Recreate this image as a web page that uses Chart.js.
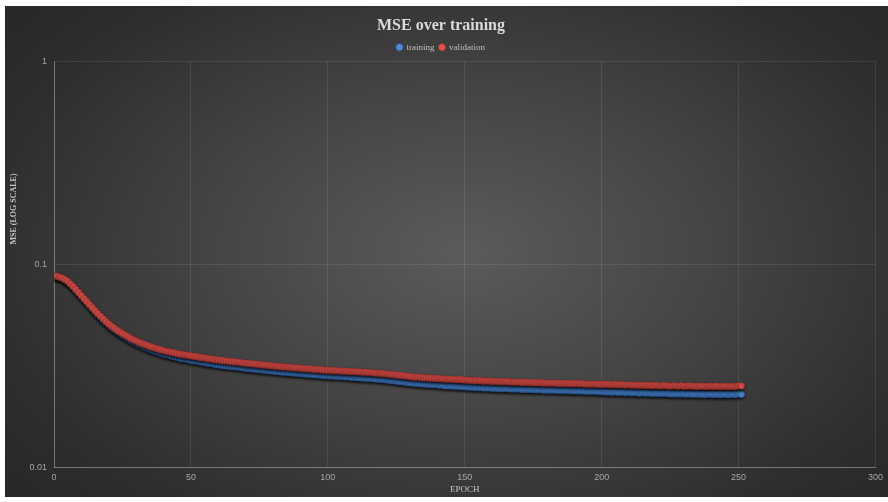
<!DOCTYPE html>
<html>
<head>
<meta charset="utf-8">
<title>MSE over training</title>
<script src="https://cdn.jsdelivr.net/npm/chart.js@4.4.1/dist/chart.umd.min.js"></script>
<style>
  html, body { margin: 0; padding: 0; background: #fff; }
  #wrap {
    position: absolute;
    left: 5px;
    top: 6px;
    width: 883px;
    height: 491px;
    background: radial-gradient(ellipse 70% 80% at 52% 50%, #5b5b5b 0%, #454545 40%, #2e2e2e 78%, #262626 100%);
  }
</style>
</head>
<body>
<div id="wrap"><canvas id="mseChart" width="883" height="491"></canvas></div>
<script>
// MSE per epoch

const seriesNames = ['training', 'validation'];
const firstEpoch = 1;

const validation = [
    0.0875, 0.0866, 0.0856, 0.0842, 0.0825, 0.0802, 0.0778, 0.0752, 0.0727, 0.0702,
    0.0678, 0.0655, 0.0633, 0.0612, 0.0591, 0.0572, 0.0555, 0.0539, 0.0523, 0.0509,
    0.0496, 0.0485, 0.0474, 0.0465, 0.0456, 0.0448, 0.0440, 0.0432, 0.0425, 0.0419,
    0.0413, 0.0408, 0.0403, 0.0399, 0.0394, 0.0390, 0.0386, 0.0383, 0.0379, 0.0376,
    0.0373, 0.0371, 0.0368, 0.0366, 0.0363, 0.0361, 0.0359, 0.0358, 0.0356, 0.0354,
    0.0352, 0.0351, 0.0349, 0.0347, 0.0346, 0.0344, 0.0342, 0.0341, 0.0339, 0.0338,
    0.0337, 0.0335, 0.0334, 0.0333, 0.0332, 0.0331, 0.0330, 0.0329, 0.0327, 0.0326,
    0.0325, 0.0324, 0.0323, 0.0322, 0.0321, 0.0320, 0.0319, 0.0318, 0.0317, 0.0316,
    0.0315, 0.0314, 0.0313, 0.0312, 0.0312, 0.0311, 0.0310, 0.0309, 0.0309, 0.0308,
    0.0307, 0.0306, 0.0306, 0.0305, 0.0304, 0.0303, 0.0303, 0.0302, 0.0301, 0.0301,
    0.0300, 0.0300, 0.0299, 0.0299, 0.0298, 0.0298, 0.0297, 0.0297, 0.0296, 0.0296,
    0.0295, 0.0295, 0.0294, 0.0294, 0.0293, 0.0293, 0.0292, 0.0291, 0.0291, 0.0290,
    0.0289, 0.0288, 0.0287, 0.0286, 0.0285, 0.0284, 0.0283, 0.0282, 0.0281, 0.0280,
    0.0279, 0.0278, 0.0278, 0.0277, 0.0276, 0.0276, 0.0275, 0.0275, 0.0274, 0.0274,
    0.0273, 0.0273, 0.0272, 0.0272, 0.0272, 0.0271, 0.0271, 0.0270, 0.0270, 0.0269,
    0.0269, 0.0268, 0.0268, 0.0267, 0.0267, 0.0267, 0.0266, 0.0266, 0.0266, 0.0265,
    0.0265, 0.0265, 0.0264, 0.0264, 0.0264, 0.0264, 0.0263, 0.0263, 0.0263, 0.0263,
    0.0262, 0.0262, 0.0262, 0.0262, 0.0261, 0.0261, 0.0261, 0.0261, 0.0260, 0.0260,
    0.0260, 0.0260, 0.0260, 0.0259, 0.0259, 0.0259, 0.0259, 0.0259, 0.0258, 0.0258,
    0.0258, 0.0258, 0.0258, 0.0257, 0.0257, 0.0257, 0.0257, 0.0257, 0.0256, 0.0256,
    0.0256, 0.0256, 0.0256, 0.0255, 0.0256, 0.0255, 0.0255, 0.0255, 0.0254, 0.0255,
    0.0254, 0.0254, 0.0254, 0.0253, 0.0254, 0.0253, 0.0253, 0.0253, 0.0252, 0.0253,
    0.0252, 0.0252, 0.0253, 0.0252, 0.0251, 0.0252, 0.0252, 0.0251, 0.0252, 0.0251,
    0.0251, 0.0252, 0.0251, 0.0251, 0.0250, 0.0251, 0.0251, 0.0250, 0.0251, 0.0251,
    0.0250, 0.0251, 0.0250, 0.0250, 0.0251, 0.0250, 0.0250, 0.0251, 0.0250, 0.0252,
    0.0252
];

const training = [
    0.0871, 0.0862, 0.0852, 0.0838, 0.0821, 0.0798, 0.0774, 0.0748, 0.0723, 0.0698,
    0.0673, 0.0649, 0.0627, 0.0605, 0.0584, 0.0565, 0.0548, 0.0531, 0.0516, 0.0501,
    0.0488, 0.0477, 0.0465, 0.0456, 0.0447, 0.0439, 0.0430, 0.0422, 0.0415, 0.0409,
    0.0402, 0.0397, 0.0391, 0.0387, 0.0382, 0.0378, 0.0373, 0.0370, 0.0366, 0.0362,
    0.0359, 0.0357, 0.0353, 0.0351, 0.0348, 0.0345, 0.0343, 0.0342, 0.0339, 0.0337,
    0.0335, 0.0334, 0.0332, 0.0330, 0.0329, 0.0326, 0.0325, 0.0324, 0.0321, 0.0320,
    0.0319, 0.0317, 0.0316, 0.0315, 0.0314, 0.0313, 0.0312, 0.0311, 0.0309, 0.0308,
    0.0307, 0.0306, 0.0305, 0.0304, 0.0303, 0.0302, 0.0301, 0.0300, 0.0299, 0.0298,
    0.0297, 0.0296, 0.0295, 0.0294, 0.0294, 0.0293, 0.0292, 0.0291, 0.0291, 0.0290,
    0.0289, 0.0288, 0.0288, 0.0287, 0.0286, 0.0285, 0.0285, 0.0284, 0.0283, 0.0283,
    0.0282, 0.0282, 0.0281, 0.0281, 0.0280, 0.0280, 0.0279, 0.0279, 0.0277, 0.0277,
    0.0276, 0.0276, 0.0275, 0.0275, 0.0274, 0.0274, 0.0273, 0.0272, 0.0272, 0.0271,
    0.0270, 0.0269, 0.0268, 0.0267, 0.0266, 0.0265, 0.0264, 0.0263, 0.0262, 0.0261,
    0.0260, 0.0259, 0.0259, 0.0258, 0.0257, 0.0257, 0.0256, 0.0256, 0.0255, 0.0255,
    0.0254, 0.0254, 0.0252, 0.0252, 0.0252, 0.0251, 0.0251, 0.0250, 0.0250, 0.0249,
    0.0249, 0.0248, 0.0248, 0.0247, 0.0247, 0.0247, 0.0246, 0.0246, 0.0246, 0.0245,
    0.0245, 0.0245, 0.0244, 0.0244, 0.0244, 0.0244, 0.0243, 0.0243, 0.0243, 0.0243,
    0.0242, 0.0242, 0.0242, 0.0242, 0.0241, 0.0241, 0.0241, 0.0241, 0.0240, 0.0240,
    0.0240, 0.0240, 0.0240, 0.0239, 0.0239, 0.0239, 0.0239, 0.0239, 0.0238, 0.0238,
    0.0238, 0.0238, 0.0238, 0.0237, 0.0237, 0.0237, 0.0237, 0.0237, 0.0236, 0.0236,
    0.0235, 0.0235, 0.0235, 0.0234, 0.0235, 0.0234, 0.0234, 0.0234, 0.0233, 0.0234,
    0.0233, 0.0233, 0.0233, 0.0232, 0.0233, 0.0232, 0.0232, 0.0232, 0.0231, 0.0232,
    0.0231, 0.0231, 0.0231, 0.0231, 0.0230, 0.0230, 0.0230, 0.0230, 0.0230, 0.0230,
    0.0229, 0.0230, 0.0229, 0.0229, 0.0229, 0.0229, 0.0229, 0.0228, 0.0229, 0.0229,
    0.0228, 0.0229, 0.0228, 0.0228, 0.0229, 0.0228, 0.0228, 0.0229, 0.0228, 0.0230,
    0.0229
];

// axis ticks
const yTicks = [0.01, 0.1, 1];
const yTickLabels = ['0.01', '0.1', '1'];
const xMin = 0;
const xMax = 300;
const xStep = 50;

const chartTitle = 'MSE over training';
const xTitle = 'EPOCH';
const yTitle = 'MSE (LOG SCALE)';

const epochs = validation.map((_, i) => firstEpoch + i);

const serif = '"Liberation Serif", "DejaVu Serif", serif';
const narrow = '"Liberation Sans Narrow", "Liberation Sans", sans-serif';
const gridColor = 'rgba(255, 255, 255, 0.09)';

// Excel-like drop shadow under the markers
const markerShadow = {
    id: 'markerShadow',
    beforeDatasetsDraw(chart) {
        const ctx = chart.ctx;
        ctx.save();
        ctx.shadowColor = 'rgba(0, 0, 0, 0.55)';
        ctx.shadowBlur = 3;
        ctx.shadowOffsetY = 1.5;
    },
    afterDatasetsDraw(chart) {
        chart.ctx.restore();
    }
};

// Rotated y axis title, sitting a bit above the axis centre like the original
const yAxisTitle = {
    id: 'yAxisTitle',
    afterDraw(chart) {
        const ctx = chart.ctx;
        ctx.save();
        ctx.translate(9, 203);
        ctx.rotate(-Math.PI / 2);
        ctx.font = 'bold 8px ' + serif;
        ctx.fillStyle = '#c4c4c4';
        ctx.textAlign = 'center';
        ctx.textBaseline = 'middle';
        ctx.fillText(yTitle, 0, 0);
        ctx.restore();
    }
};

function initChart() {
    const ctx = document.getElementById('mseChart').getContext('2d');

    new Chart(ctx, {
        type: 'line',
        data: {
            labels: epochs,
            datasets: [
                {
                    label: seriesNames[0],
                    data: training,
                    showLine: false,
                    pointRadius: 3.2,
                    pointBackgroundColor: '#4f8cd8',
                    pointBorderColor: '#2f62a6',
                    pointBorderWidth: 0.8,
                    order: 1
                },
                {
                    label: seriesNames[1],
                    data: validation,
                    showLine: false,
                    pointRadius: 3.2,
                    pointBackgroundColor: '#e0524c',
                    pointBorderColor: '#a8332f',
                    pointBorderWidth: 0.8,
                    order: 0
                }
            ]
        },
        options: {
            responsive: false,
            animation: false,
            layout: {
                padding: { left: 0, right: 11, top: 0, bottom: 0 }
            },
            plugins: {
                title: {
                    display: true,
                    text: chartTitle,
                    color: '#dadada',
                    font: { family: serif, size: 16, weight: 'bold' },
                    padding: { top: 7, bottom: 2 }
                },
                legend: {
                    labels: {
                        usePointStyle: true,
                        pointStyle: 'circle',
                        boxWidth: 5,
                        boxHeight: 5,
                        padding: 5,
                        color: '#bfbfbf',
                        font: { family: serif, size: 9 },
                        sort: (a, b) => a.datasetIndex - b.datasetIndex
                    }
                },
                tooltip: { enabled: false }
            },
            scales: {
                x: {
                    type: 'linear',
                    min: xMin,
                    max: xMax,
                    ticks: {
                        stepSize: xStep,
                        color: '#a6a6a6',
                        font: { family: narrow, size: 9 },
                        padding: 5
                    },
                    grid: { color: gridColor, drawTicks: false },
                    border: { color: 'rgba(255, 255, 255, 0.28)' },
                    title: {
                        display: true,
                        text: xTitle,
                        color: '#c4c4c4',
                        font: { family: serif, size: 9 },
                        padding: { top: 0, bottom: 2 }
                    },
                    afterFit: (scale) => { scale.height = 29.7; }
                },
                y: {
                    type: 'logarithmic',
                    min: yTicks[0],
                    max: yTicks[yTicks.length - 1],
                    afterBuildTicks: (scale) => {
                        scale.ticks = yTicks.map(v => ({ value: v }));
                    },
                    ticks: {
                        color: '#a6a6a6',
                        font: { family: narrow, size: 9 },
                        padding: 7,
                        callback: (v) => yTickLabels[yTicks.indexOf(v)]
                    },
                    grid: { color: gridColor, drawTicks: false },
                    border: { color: 'rgba(255, 255, 255, 0.28)' },
                    afterFit: (scale) => {
                        scale.width = 49;
                        // push the plot top down below the legend
                        scale.paddingTop = 55.7;
                    }
                }
            }
        },
        plugins: [markerShadow, yAxisTitle]
    });
}

document.addEventListener('DOMContentLoaded', () => {
    initChart();
});
</script>
</body>
</html>
